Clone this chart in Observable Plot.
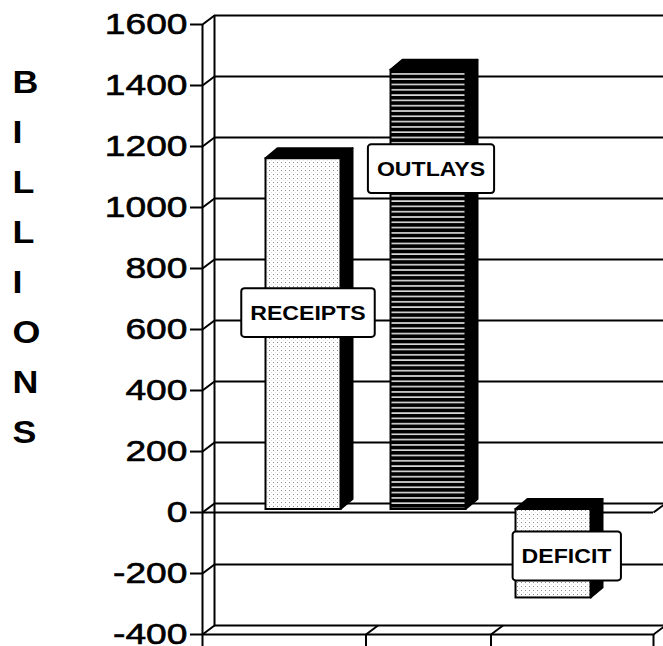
<!DOCTYPE html>
<html>
<head>
<meta charset="utf-8">
<script src="https://cdn.jsdelivr.net/npm/d3@7"></script>
<script src="https://cdn.jsdelivr.net/npm/@observablehq/plot@0.6"></script>
<style>
  html, body { margin: 0; padding: 0; background: #fff; }
  #chart svg { display: block; }
</style>
</head>
<body>
<div id="chart"></div>
<script>
// ---- data ----
const categories = ["RECEIPTS", "OUTLAYS", "DEFICIT"];
const values = [1150, 1440, -290];
const yTicks = [-400, -200, 0, 200, 400, 600, 800, 1000, 1200, 1400, 1600];
const labelValues = [654, 1126, -144];
const labelShift = [0.036, 0.02, 0.104];
const axisTitle = ["B", "I", "L", "L", "I", "O", "N", "S"];

// ---- layout ----
const W = 663, H = 646, ML = 202, MR = 10, MT = 24, MB = 12;
const xDomain = [-0.808, 2.8];
const yDomain = [-400, 1600];
const kx = (W - ML - MR) / (xDomain[1] - xDomain[0]);
const ky = (H - MT - MB) / (yDomain[1] - yDomain[0]);
const DEPTH_X = 12, DEPTH_Y = 9;          // wall depth in px
const dxu = DEPTH_X / kx, dyu = DEPTH_Y / ky;
const BAR_DX = 12, BAR_DY = 10;           // bar depth in px
const bdxu = BAR_DX / kx, bdyu = BAR_DY / ky;
const halfW = 37.5 / kx;
const boundaries = [xDomain[0], 0.5, 1.5, xDomain[1]];
const fillFor = {RECEIPTS: "url(#dots)", OUTLAYS: "url(#stripes)", DEFICIT: "url(#dots)"};

const bars = categories.map((c, i) => ({
  cat: c, i, v: values[i], top: Math.max(0, values[i]), bot: Math.min(0, values[i])
}));
const labels = categories.map((c, i) => ({cat: c, x: i + labelShift[i], y: labelValues[i]}));

const black = {stroke: "#000", strokeWidth: 2};

const barMarks = bars.flatMap(b => {
  const side = [
    {x: b.i + halfW, lo: b.bot, hi: b.top},
    {x: b.i + halfW + bdxu, lo: b.bot + bdyu, hi: b.top + bdyu}
  ];
  const top = [
    {y: b.top, lo: b.i - halfW, hi: b.i + halfW},
    {y: b.top + bdyu, lo: b.i - halfW + bdxu, hi: b.i + halfW + bdxu}
  ];
  return [
    Plot.area(side, {x1: "x", y1: "lo", y2: "hi", fill: "#000", stroke: "#000", strokeWidth: 2, dy: -3}),
    Plot.area(top, {y1: "y", x1: "lo", x2: "hi", fill: "#000", stroke: "#000", strokeWidth: 2, dy: -3}),
    Plot.rect([b], {x1: d => d.i - halfW, x2: d => d.i + halfW, y1: d => d.bot, y2: d => d.top,
      fill: fillFor[b.cat], stroke: "#000", strokeWidth: 2, dy: -3})
  ];
});

const plot = Plot.plot({
  width: W, height: H,
  marginLeft: ML, marginRight: MR, marginTop: MT, marginBottom: MB,
  x: {type: "linear", domain: xDomain},
  y: {type: "linear", domain: yDomain},
  style: {fontFamily: "'Liberation Sans', Arial, Helvetica, sans-serif", background: "#fff", color: "#000", overflow: "visible"},
  marks: [
    // back wall gridlines
    Plot.ruleY(yTicks, {y: d => d, x1: () => xDomain[0], x2: () => xDomain[1], dx: DEPTH_X, dy: -DEPTH_Y, ...black}),
    // left wall back edge
    Plot.ruleX([xDomain[0]], {x: d => d, y1: () => yDomain[0], y2: () => yDomain[1], dx: DEPTH_X, dy: -DEPTH_Y, ...black}),
    // left wall diagonals
    Plot.link(yTicks, {x1: () => xDomain[0], y1: d => d, x2: () => xDomain[0] + dxu, y2: d => d + dyu, ...black}),
    // left wall front edge
    Plot.ruleX([xDomain[0]], {x: d => d, y1: () => yDomain[0], y2: () => yDomain[1], ...black}),
    // floors: front edges
    Plot.ruleY([0, yDomain[0]], {y: d => d, x1: () => xDomain[0], x2: () => xDomain[1], ...black}),
    // floor diagonals (bottom floor at category boundaries, zero floor at right end)
    Plot.link(boundaries.slice(1), {x1: d => d, y1: () => yDomain[0], x2: d => d + dxu, y2: () => yDomain[0] + dyu, ...black}),
    Plot.link([0], {x1: () => xDomain[1], y1: d => d, x2: () => xDomain[1] + dxu, y2: d => d + dyu, ...black}),
    // bars
    ...barMarks,
    // axes
    Plot.axisY({ticks: yTicks, tickSize: 12, tickPadding: 3, fontSize: 30, tickFormat: d => String(d), label: null, strokeWidth: 2}),
    Plot.axisX({ticks: boundaries, tickSize: 12, tickFormat: () => "", label: null, strokeWidth: 2}),
    // bar labels
    Plot.text(labels, {x: "x", y: "y", text: "cat", fontSize: 21, fontWeight: "bold", lineAnchor: "middle", textAnchor: "middle", fill: "#000"}),
    // vertical axis title
    Plot.text([axisTitle.join("\n")], {text: d => d, frameAnchor: "top-left", dx: 12 - ML, dy: 57 - MT,
      lineAnchor: "top", textAnchor: "start", lineHeight: 50 / 32, fontSize: 32, fontWeight: "bold", fill: "#000"})
  ]
});

document.getElementById("chart").append(plot);

// ---- post-processing: patterns, stretched type, label boxes ----
const NS = "http://www.w3.org/2000/svg";
function el(name, attrs, parent) {
  const e = document.createElementNS(NS, name);
  for (const k in attrs) e.setAttribute(k, attrs[k]);
  if (parent) parent.appendChild(e);
  return e;
}
const defs = el("defs", {});
plot.insertBefore(defs, plot.firstChild);
const dots = el("pattern", {id: "dots", width: 4, height: 4, patternUnits: "userSpaceOnUse"}, defs);
el("rect", {width: 4, height: 4, fill: "#fff"}, dots);
el("rect", {x: 1, y: 1, width: 1, height: 1, fill: "#888"}, dots);
el("rect", {x: 3, y: 3, width: 1, height: 1, fill: "#ddd"}, dots);
const stripes = el("pattern", {id: "stripes", width: 5, height: 5.3, patternUnits: "userSpaceOnUse"}, defs);
el("rect", {width: 5, height: 5.3, fill: "#000"}, stripes);
el("rect", {y: 2, width: 5, height: 1.4, fill: "#fff"}, stripes);

// horizontal stretch about the text's anchor; the vertical (y / em) offset is left untouched
function stretch(t, s) {
  const xa = t.getAttribute("x");
  const x = xa && !isNaN(+xa) ? +xa : 0;
  if (xa && !isNaN(+xa)) t.removeAttribute("x");
  const tr = t.getAttribute("transform") || "";
  t.setAttribute("transform", `${tr} translate(${x},0) scale(${s},1)`);
}
const allTexts = Array.from(plot.querySelectorAll("text"));
const tickStrings = new Set(yTicks.map(String));
allTexts.filter(t => tickStrings.has(t.textContent.trim())).forEach(t => {
  stretch(t, 1.24);
  t.setAttribute("stroke", "#000");
  t.setAttribute("stroke-width", "0.6");
});
allTexts.filter(t => t.querySelectorAll("tspan").length === axisTitle.length).forEach(t => stretch(t, 1.12));
const LS = 1.1;
allTexts.filter(t => categories.includes(t.textContent.trim())).forEach(t => {
  stretch(t, LS);
  const bb = t.getBBox();
  const padX = 9 / LS, padY = 12.5;
  const r = el("rect", {
    x: bb.x - padX, y: bb.y - padY, width: bb.width + 2 * padX, height: bb.height + 2 * padY,
    rx: 3, fill: "#fff", stroke: "#000", "stroke-width": 2, "vector-effect": "non-scaling-stroke",
    transform: t.getAttribute("transform")
  });
  t.parentNode.insertBefore(r, t);
});
</script>
</body>
</html>
